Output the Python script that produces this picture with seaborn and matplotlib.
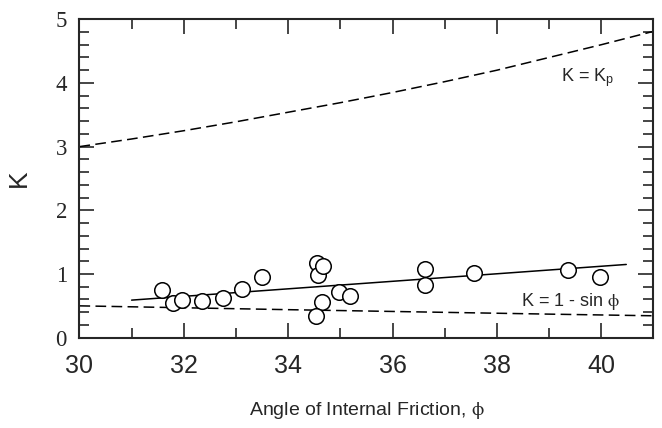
import numpy as np
import pandas as pd
import matplotlib
matplotlib.use("Agg")
import matplotlib.pyplot as plt
import seaborn as sns
from matplotlib.ticker import MultipleLocator

# curvas teoricas
phi_curve = [30, 31, 32, 33, 34, 35, 36, 37, 38, 39, 40, 41]
k_passive = [3.00, 3.12, 3.25, 3.39, 3.54, 3.69, 3.85, 4.02, 4.20, 4.40, 4.60, 4.81]
k_rest = [0.50, 0.485, 0.47, 0.455, 0.44, 0.426, 0.412, 0.398, 0.384, 0.37, 0.357, 0.344]

# datos medidos
phi_obs = [31.59, 31.80, 31.96, 32.34, 32.76, 33.11, 33.49, 34.55, 34.58, 34.66,
           34.65, 34.54, 34.98, 35.18, 36.63, 36.63, 37.57, 39.36, 39.98]
k_obs = [0.75, 0.54, 0.59, 0.58, 0.62, 0.76, 0.95, 1.17, 0.98, 1.13,
         0.56, 0.34, 0.72, 0.66, 1.08, 0.82, 1.02, 1.07, 0.96]

# recta de ajuste
phi_fit = [31.0, 40.48]
k_fit = [0.59, 1.15]

sns.set_style("ticks")
plt.rcParams['font.family'] = ['Liberation Sans', 'DejaVu Sans']
plt.rcParams['mathtext.fontset'] = 'stix'

fig = plt.figure(figsize=(6.62, 4.28), dpi=100)
ax = fig.add_axes([0.12, 0.211, 0.867, 0.744])

df_curves = pd.DataFrame({"phi": phi_curve, "kp": k_passive, "k0": k_rest})
sns.lineplot(data=df_curves, x="phi", y="kp", ax=ax, color="black", lw=1.1)
sns.lineplot(data=df_curves, x="phi", y="k0", ax=ax, color="black", lw=1.1)
for ln in ax.lines:
    ln.set_dashes((7, 3.5))
sns.lineplot(x=phi_fit, y=k_fit, ax=ax, color="black", lw=1.1)
sns.scatterplot(x=phi_obs, y=k_obs, ax=ax, s=125, facecolor="white",
                edgecolor="black", linewidth=1.1, zorder=5)

ax.set_xlim(30, 41)
ax.set_ylim(0, 5)
ax.xaxis.set_major_locator(MultipleLocator(2))
ax.xaxis.set_minor_locator(MultipleLocator(1))
ax.yaxis.set_major_locator(MultipleLocator(1))
ax.yaxis.set_minor_locator(MultipleLocator(0.2))
ax.tick_params(which="both", direction="in", top=True, right=True, width=1.2)
ax.tick_params(which="major", length=11)
ax.tick_params(which="minor", length=7.5)
ax.tick_params(axis="x", labelsize=18, pad=12)
ax.tick_params(axis="y", labelsize=16.5, pad=9)
for lab in ax.get_yticklabels():
    lab.set_fontfamily("Liberation Serif")
for sp in ax.spines.values():
    sp.set_linewidth(1.5)

ax.set_xlabel(r"Angle of Internal Friction, $\mathrm{\phi}$", fontsize=14)
ax.set_ylabel("K", fontsize=19)
ax.xaxis.set_label_coords(0.5, -0.195)
ax.yaxis.set_label_coords(-0.085, 0.5)

ax.text(39.23, 4.02, r"K = K$_\mathregular{p}$", fontsize=13)
ax.text(38.47, 0.50, r"K = 1 - sin $\mathrm{\phi}$", fontsize=13)

fig.savefig("out.png", dpi=100)
